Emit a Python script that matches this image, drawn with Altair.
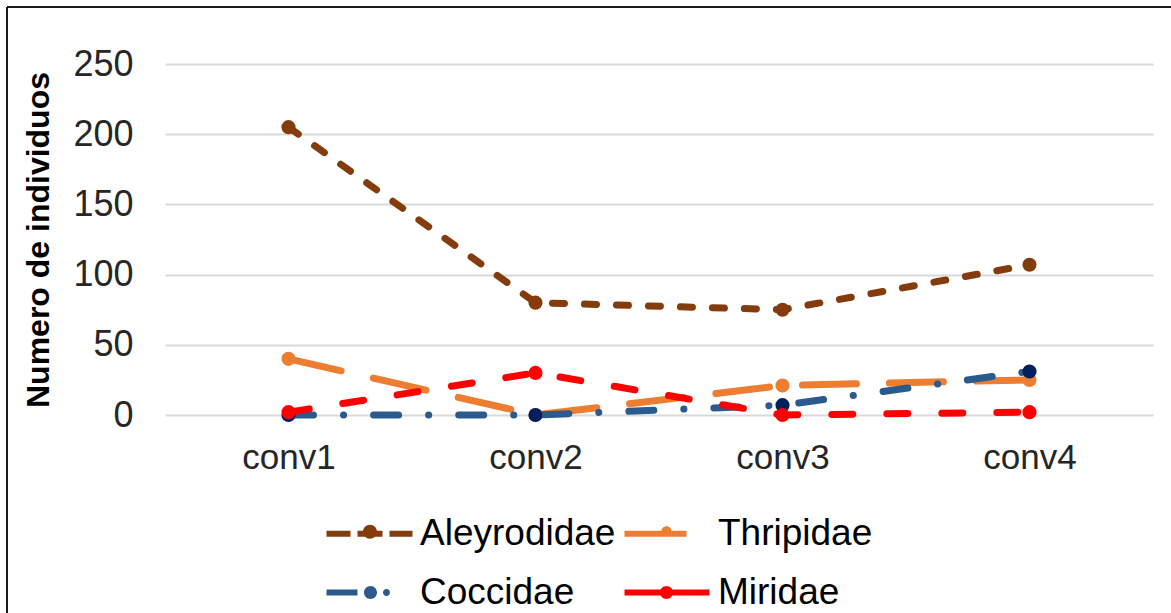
import altair as alt
import pandas as pd

# ---- data ----
categories = ["conv1", "conv2", "conv3", "conv4"]
series_names = ["Aleyrodidae", "Thripidae", "Coccidae", "Miridae"]
aleyrodidae = [205, 80, 75, 107]
thripidae = [40, 0, 21, 25]
coccidae = [0, 0, 7, 31]
miridae = [2, 30, 0, 2]

values_by_series = {
    "Aleyrodidae": aleyrodidae,
    "Thripidae": thripidae,
    "Coccidae": coccidae,
    "Miridae": miridae,
}

rows = []
for s in series_names:
    for c, v in zip(categories, values_by_series[s]):
        rows.append({"categoria": c, "valor": v, "serie": s, "leyenda": s})
df = pd.DataFrame(rows)

# ---- styles ----
line_colors = ["#843C0C", "#ED7D31", "#2A5B8C", "#FF0000"]
marker_colors = ["#843C0C", "#ED7D31", "#002060", "#FF0000"]
dashes = [[12, 20], [54, 33], [25, 30, 0.1, 30], [21, 34]]


def circ(cx, cy, r):
    # clockwise (same winding as rect) so overlaps stay filled
    return (f"M{cx - r},{cy}A{r},{r} 0 1,1 {cx + r},{cy}"
            f"A{r},{r} 0 1,1 {cx - r},{cy}Z")


def rect(x0, x1, h):
    return f"M{x0},{-h}H{x1}V{h}H{x0}Z"


legend_shapes = [
    rect(-1, 1.4, 0.3) + rect(2.1, 4.6, 0.3) + circ(3.35, -0.2, 0.7) + rect(5.3, 7.6, 0.3),
    rect(-1, 5.2, 0.3) + circ(3.2, -0.25, 0.5),
    rect(-1, 2.1, 0.3) + circ(3.4, 0, 0.65) + circ(5.0, 0, 0.35),
    rect(-1, 7.5, 0.3) + circ(3.2, 0, 0.65),
]

font = "Liberation Sans"

base = alt.Chart(df)

x_enc = alt.X(
    "categoria:N",
    sort=categories,
    scale=alt.Scale(type="point", padding=0.5),
    axis=alt.Axis(
        title=None, domain=False, ticks=False, tickSize=0, grid=False,
        labelFont=font, labelFontSize=35, labelColor="#262626",
        labelPadding=25, labelAngle=0, labelAlign="center", labelBaseline="top",
    ),
)
y_enc = alt.Y(
    "valor:Q",
    scale=alt.Scale(domain=[0, 250], nice=False, zero=True),
    axis=alt.Axis(
        title="Numero de individuos", values=[0, 50, 100, 150, 200, 250],
        domain=False, ticks=False, tickSize=0, grid=True,
        gridColor="#D9D9D9", gridWidth=2,
        labelFont=font, labelFontSize=36, labelColor="#262626", labelPadding=32,
        titleFont=font, titleFontSize=32, titleFontWeight="bold",
        titleColor="#000000", titlePadding=17,
    ),
)

leg = alt.Legend(
    title=None, orient="none", legendX=153, legendY=451, direction="horizontal",
    columns=2, columnPadding=0, rowPadding=21,
    labelFont=font, labelFontSize=37, labelColor="#000000",
    labelLimit=400, labelOffset=65, symbolSize=400,
    symbolStrokeWidth=0, symbolOpacity=1,
)

legend_layer = base.mark_point(filled=True, opacity=0, size=400).encode(
    x=x_enc,
    y=y_enc,
    color=alt.Color("leyenda:N", scale=alt.Scale(domain=series_names, range=line_colors), legend=leg),
    shape=alt.Shape("leyenda:N", scale=alt.Scale(domain=series_names, range=legend_shapes), legend=leg),
)

lines = base.mark_line(strokeWidth=7, strokeCap="round", strokeJoin="round").encode(
    x=x_enc,
    y=y_enc,
    stroke=alt.Stroke("serie:N", scale=alt.Scale(domain=series_names, range=line_colors), legend=None),
    strokeDash=alt.StrokeDash("serie:N", scale=alt.Scale(domain=series_names, range=dashes), legend=None),
    detail="serie:N",
)

markers = base.mark_circle(size=200, opacity=1).encode(
    x=x_enc,
    y=y_enc,
    fill=alt.Fill("serie:N", scale=alt.Scale(domain=series_names, range=marker_colors), legend=None),
)

frame_data = alt.Data(values=[{"k": 1}])
frame_left = alt.Chart(frame_data).mark_rule(color="#1A1A1A", strokeWidth=2).encode(
    x=alt.value(-158), y=alt.value(-57), y2=alt.value(560)
)
frame_top = alt.Chart(frame_data).mark_rule(color="#1A1A1A", strokeWidth=2).encode(
    x=alt.value(-158), x2=alt.value(1010), y=alt.value(-57)
)

chart = alt.layer(legend_layer, lines, markers, frame_left, frame_top).properties(
    width=988,
    height=351,
    autosize=alt.AutoSizeParams(type="none"),
    padding={"left": 165, "top": 64, "right": 18, "bottom": 198},
    background="#FFFFFF",
).configure_view(stroke=None)

chart.save("out.html", embed_options={"renderer": "svg", "actions": False})
